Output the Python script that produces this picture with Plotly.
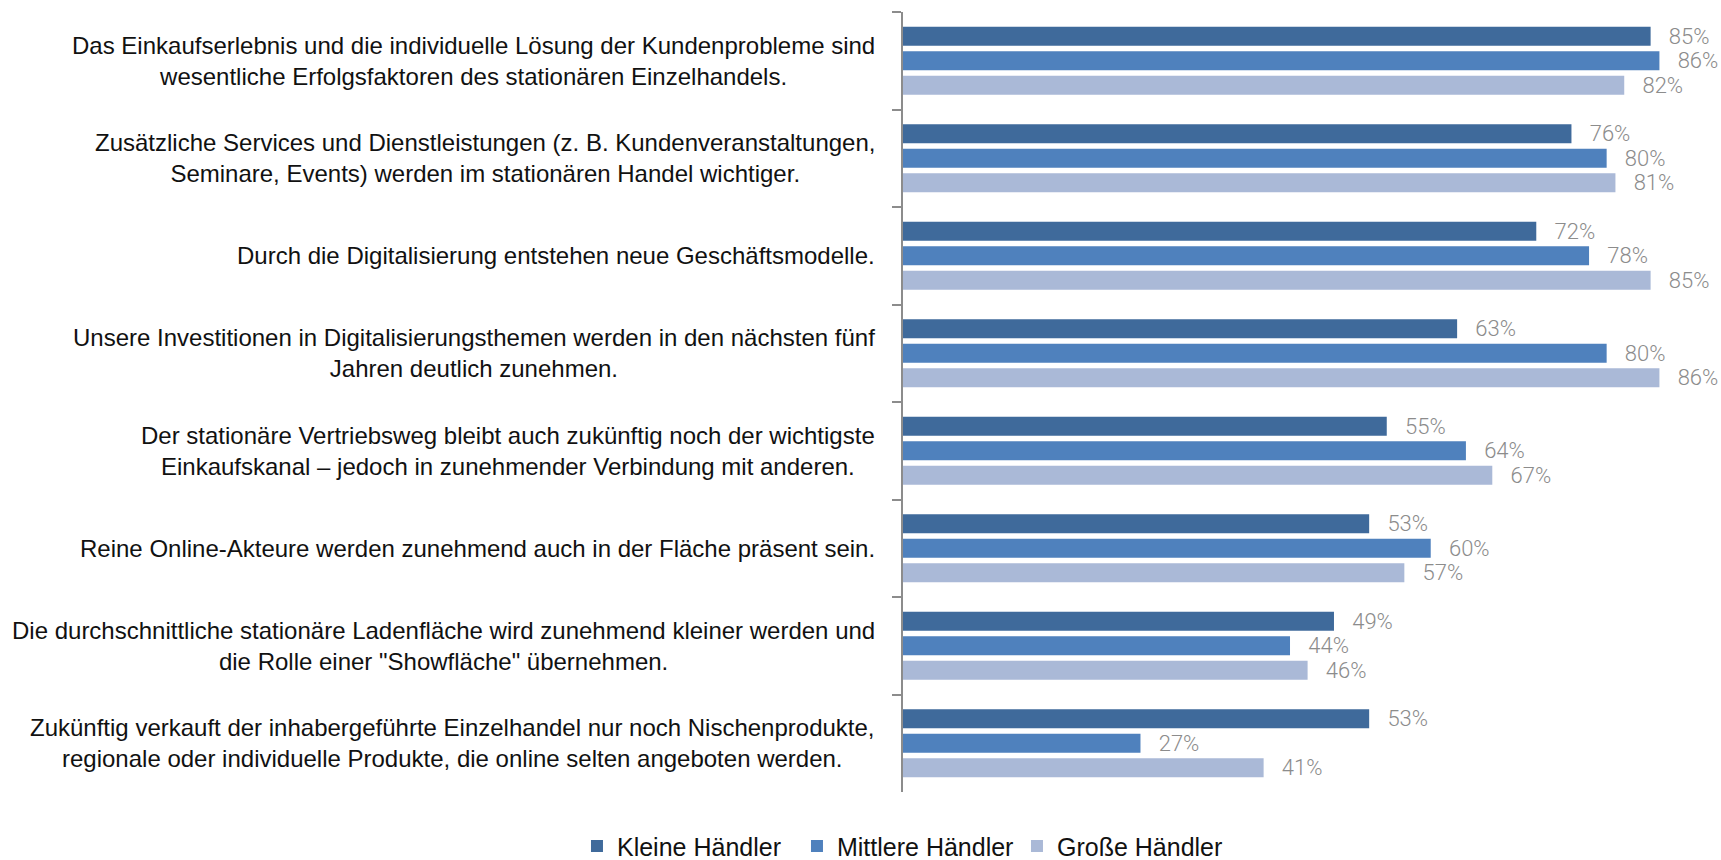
import plotly.graph_objects as go

statements = [
    "Das Einkaufserlebnis und die individuelle Lösung der Kundenprobleme sind<br>wesentliche Erfolgsfaktoren des stationären Einzelhandels.",
    "Zusätzliche Services und Dienstleistungen (z. B. Kundenveranstaltungen,<br>Seminare, Events) werden im stationären Handel wichtiger.",
    "Durch die Digitalisierung entstehen neue Geschäftsmodelle.",
    "Unsere Investitionen in Digitalisierungsthemen werden in den nächsten fünf<br>Jahren deutlich zunehmen.",
    "Der stationäre Vertriebsweg bleibt auch zukünftig noch der wichtigste<br>Einkaufskanal – jedoch in zunehmender Verbindung mit anderen.",
    "Reine Online-Akteure werden zunehmend auch in der Fläche präsent sein.",
    "Die durchschnittliche stationäre Ladenfläche wird zunehmend kleiner werden und<br>die Rolle einer \"Showfläche\" übernehmen.",
    "Zukünftig verkauft der inhabergeführte Einzelhandel nur noch Nischenprodukte,<br>regionale oder individuelle Produkte, die online selten angeboten werden.",
]
cat_ids = [f"s{i}" for i in range(len(statements))]

kleine = [85, 76, 72, 63, 55, 53, 49, 53]
mittlere = [86, 80, 78, 80, 64, 60, 44, 27]
grosse = [82, 81, 85, 86, 67, 57, 46, 41]

series = [
    ("Kleine Händler", kleine, "#3F6A9B"),
    ("Mittlere Händler", mittlere, "#4F81BD"),
    ("Große Händler", grosse, "#AAB9D7"),
]

label_font = "Liberation Sans, Arial, sans-serif"

fig = go.Figure()
for name, vals, color in series:
    fig.add_trace(go.Bar(
        name=name,
        y=cat_ids,
        x=vals,
        orientation="h",
        marker=dict(color=color, line=dict(width=0)),
        text=[f"\u00a0\u00a0\u2009{v}%" for v in vals],
        textposition="outside",
        constraintext="none",
        cliponaxis=False,
        textfont=dict(family="Roboto Light, Roboto, sans-serif", size=22, color="#8C8C8C"),
        hoverinfo="skip",
    ))

# statement labels, centred line by line, right edge next to the axis
annotations = []
for i, txt in enumerate(statements):
    annotations.append(dict(
        x=0, xref="paper", y=i, yref="y",
        xanchor="right", yanchor="middle", xshift=-26,
        text=txt, showarrow=False, align="center",
        font=dict(family=label_font, size=24, color="#111111"),
    ))

fig.update_layout(
    width=1721, height=860,
    margin=dict(l=903, r=22, t=12, b=68, autoexpand=False),
    paper_bgcolor="white", plot_bgcolor="white",
    barmode="group", bargap=0.245, bargroupgap=0.22,
    showlegend=True,
    legend=dict(
        orientation="h", x=0.005, xanchor="center",
        y=-0.04, yanchor="top",
        font=dict(family=label_font, size=25, color="#111111"),
        traceorder="normal",
        entrywidth=175,
    ),
    xaxis=dict(range=[0, 90.5], showticklabels=False, showgrid=False,
               zeroline=False, showline=False, ticks=""),
    yaxis=dict(
        type="category", categoryorder="array", categoryarray=cat_ids,
        range=[len(cat_ids) - 0.5, -0.5],
        showticklabels=False, showgrid=False, zeroline=False,
        showline=True, linecolor="#8C8C8C", linewidth=2,
        ticks="outside", tickson="boundaries", ticklen=9,
        tickcolor="#8C8C8C", tickwidth=2,
    ),
    annotations=annotations,
)

fig.write_html("out.html")
